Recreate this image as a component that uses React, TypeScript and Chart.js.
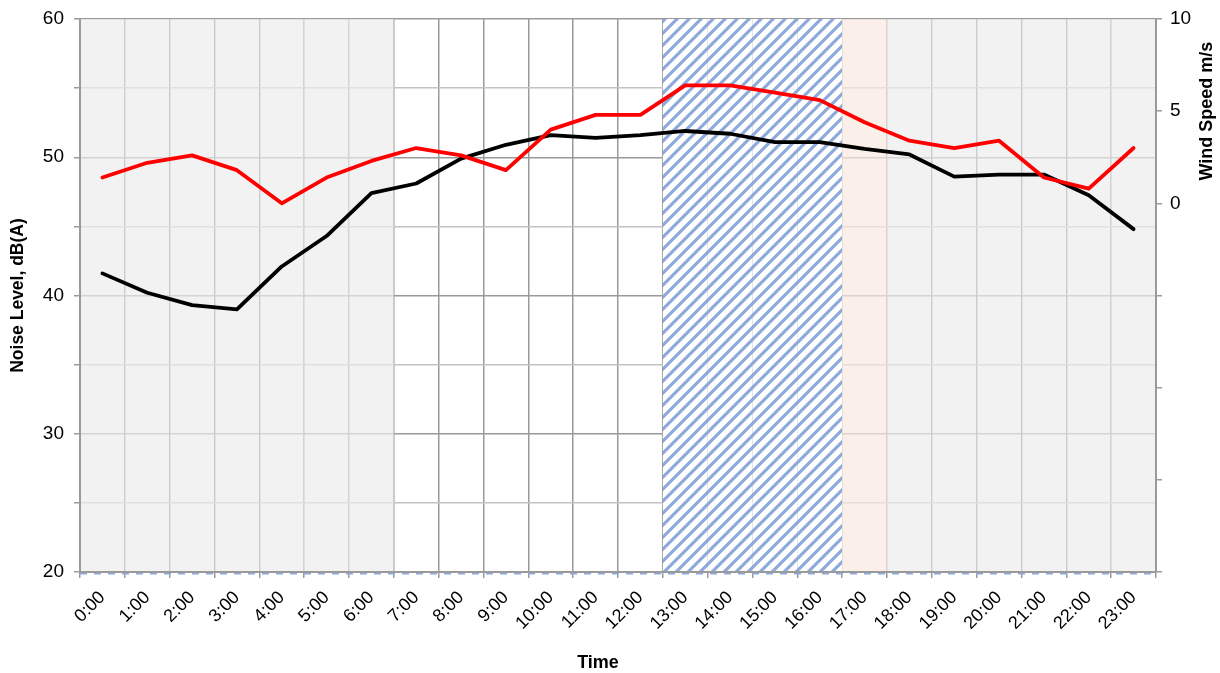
import React, { useEffect, useRef } from 'react';
import { Chart, registerables } from 'chart.js';

Chart.register(...registerables);

// ---- data ----
const hours = [
  '0:00', '1:00', '2:00', '3:00', '4:00', '5:00', '6:00', '7:00', '8:00', '9:00', '10:00', '11:00',
  '12:00', '13:00', '14:00', '15:00', '16:00', '17:00', '18:00', '19:00', '20:00', '21:00', '22:00', '23:00',
];
const noiseLevel = [
  41.6, 40.2, 39.3, 39.0, 42.1, 44.3, 47.4, 48.1, 49.9, 50.9, 51.6, 51.4,
  51.6, 51.9, 51.7, 51.1, 51.1, 50.6, 50.2, 48.6, 48.75, 48.75, 47.25, 44.8,
];
const windSpeed = [
  1.4, 2.2, 2.6, 1.8, 0.0, 1.4, 2.3, 3.0, 2.6, 1.8, 4.0, 4.8,
  4.8, 6.4, 6.4, 6.0, 5.6, 4.4, 3.4, 3.0, 3.4, 1.4, 0.8, 3.0,
];
// background periods (1 = hour belongs to the period)
const nightPeriod = [1, 1, 1, 1, 1, 1, 1, 0, 0, 0, 0, 0, 0, 0, 0, 0, 0, 0, 1, 1, 1, 1, 1, 1];
const hatchedPeriod = [0, 0, 0, 0, 0, 0, 0, 0, 0, 0, 0, 0, 0, 1, 1, 1, 1, 0, 0, 0, 0, 0, 0, 0];
const eveningPeriod = [0, 0, 0, 0, 0, 0, 0, 0, 0, 0, 0, 0, 0, 0, 0, 0, 0, 1, 0, 0, 0, 0, 0, 0];
const noiseRange = [20, 60];
const windRange = [-20, 10];
const noiseTitle = 'Noise Level, dB(A)';
const windTitle = 'Wind Speed m/s';
const timeTitle = 'Time';

const toBars = (flags: number[]) => flags.map((f) => (f ? 1 : null));

export default function App() {
  const ref = useRef<HTMLCanvasElement>(null);

  useEffect(() => {
    document.body.style.margin = '0';
    const canvas = ref.current!;
    Chart.defaults.color = '#000';
    Chart.defaults.font.family = 'Arial, "Liberation Sans", sans-serif';

    // hatch pattern
    const s = 12;
    const pcv = document.createElement('canvas');
    pcv.width = s;
    pcv.height = s;
    const pc = pcv.getContext('2d')!;
    pc.fillStyle = '#ffffff';
    pc.fillRect(0, 0, s, s);
    pc.strokeStyle = '#8eaadc';
    pc.lineWidth = 3.1;
    pc.beginPath();
    pc.moveTo(-1, s + 1);
    pc.lineTo(s + 1, -1);
    pc.moveTo(-s / 2 - 1, s / 2 + 1);
    pc.lineTo(s / 2 + 1, -s / 2 - 1);
    pc.moveTo(s / 2 - 1, s * 1.5 + 1);
    pc.lineTo(s * 1.5 + 1, s / 2 - 1);
    pc.stroke();
    const hatch = canvas.getContext('2d')!.createPattern(pcv, 'repeat');

    const decor = {
      id: 'decor',
      afterDatasetsDraw(chart: any) {
        const { ctx, chartArea, scales } = chart;
        const y = scales.y.getPixelForValue(noiseRange[0]) + 1.5;
        ctx.save();
        ctx.strokeStyle = '#8eaadc';
        ctx.lineWidth = 2;
        ctx.setLineDash([7, 7]);
        ctx.beginPath();
        ctx.moveTo(chartArea.left, y);
        ctx.lineTo(chartArea.right, y);
        ctx.stroke();
        ctx.restore();
      },
      afterDraw(chart: any) {
        const { ctx, chartArea, scales } = chart;
        ctx.save();
        ctx.fillStyle = '#000';
        ctx.font = 'bold 18px Arial, "Liberation Sans", sans-serif';
        ctx.textAlign = 'center';
        ctx.textBaseline = 'middle';
        // right axis title
        ctx.save();
        ctx.translate(chart.width - 13, scales.y2.getPixelForValue(5));
        ctx.rotate(-Math.PI / 2);
        ctx.fillText(windTitle, 0, 0);
        ctx.restore();
        // x axis title
        ctx.fillText(timeTitle, (chartArea.left + chartArea.right) / 2 - 20, chart.height - 10);
        ctx.restore();
      },
    };

    const lineCommon = {
      type: 'line',
      borderWidth: 3.8,
      pointRadius: 0,
      tension: 0,
      borderJoinStyle: 'round',
      borderCapStyle: 'round',
    };
    const barCommon = {
      type: 'bar',
      yAxisID: 'yBg',
      borderWidth: 0,
      barPercentage: 1,
      categoryPercentage: 1,
      grouped: false,
      inflateAmount: 0,
      order: 5,
    };
    const noPad = (sc: any) => {
      sc.paddingTop = 0;
      sc.paddingBottom = 0;
      sc.paddingLeft = 0;
      sc.paddingRight = 0;
    };

    const chart = new Chart(canvas, {
      type: 'line',
      data: {
        labels: hours,
        datasets: [
          { ...lineCommon, label: 'Wind Speed', data: windSpeed, yAxisID: 'y2', borderColor: '#ff0000', order: 0 },
          { ...lineCommon, label: 'Noise Level', data: noiseLevel, yAxisID: 'y', borderColor: '#000000', order: 1 },
          { ...barCommon, label: 'night', data: toBars(nightPeriod), backgroundColor: 'rgba(236,236,236,0.7)' },
          { ...barCommon, label: 'evening', data: toBars(eveningPeriod), backgroundColor: 'rgba(248,232,224,0.7)' },
          { ...barCommon, label: 'hatched', data: toBars(hatchedPeriod), backgroundColor: hatch },
        ] as any,
      },
      options: {
        responsive: false,
        animation: false,
        layout: { padding: { top: 19, left: 0, right: 0, bottom: 0 } },
        plugins: { legend: { display: false }, tooltip: { enabled: false } },
        scales: {
          x: {
            type: 'category',
            offset: true,
            grid: { offset: true, color: '#9a9a9a', lineWidth: 1.5, tickLength: 6, tickColor: '#9a9a9a' },
            border: { color: '#9a9a9a', width: 2, z: 1 },
            ticks: { maxRotation: 45, minRotation: 45, padding: 9, autoSkip: false, font: { size: 18 } },
            afterFit: (sc: any) => {
              sc.height = 101;
              noPad(sc);
            },
          },
          y: {
            position: 'left',
            min: noiseRange[0],
            max: noiseRange[1],
            ticks: {
              stepSize: 5,
              padding: 10,
              font: { size: 19 },
              callback: (v: any) => (Number(v) % 10 === 0 ? String(v) : ''),
            },
            grid: {
              color: (c: any) => (c.tick && c.tick.value % 10 === 0 ? '#9a9a9a' : '#c2c2c2'),
              lineWidth: 1.5,
              tickLength: 6,
              tickColor: '#9a9a9a',
            },
            border: { color: '#9a9a9a', width: 2, z: 1 },
            title: {
              display: true,
              text: noiseTitle,
              font: { size: 17.5, weight: 'bold' },
              padding: { top: 8, bottom: 0 },
            },
            afterFit: (sc: any) => {
              sc.width = 80;
              noPad(sc);
            },
          },
          y2: {
            position: 'right',
            min: windRange[0],
            max: windRange[1],
            ticks: {
              stepSize: 5,
              padding: 8,
              font: { size: 19 },
              callback: (v: any) => (Number(v) >= 0 ? String(v) : ''),
            },
            grid: { drawOnChartArea: false, tickLength: 6, tickColor: '#9a9a9a', lineWidth: 1.5 },
            border: { color: '#9a9a9a', width: 2, z: 1 },
            afterFit: (sc: any) => {
              sc.width = 64;
              noPad(sc);
            },
          },
          yBg: { display: false, min: 0, max: 1 },
        },
      } as any,
      plugins: [decor],
    });
    return () => chart.destroy();
  }, []);

  return <canvas ref={ref} width={1220} height={673} style={{ display: 'block' }} />;
}
